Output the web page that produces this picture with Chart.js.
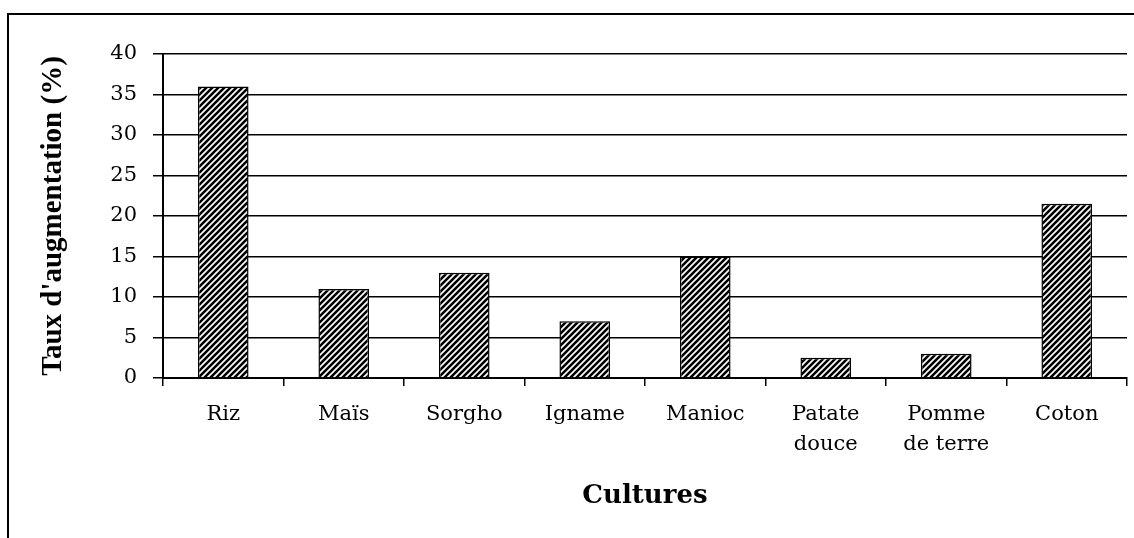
<!DOCTYPE html>
<html lang="fr">
<head>
    <meta charset="UTF-8">
    <title>Taux d'augmentation par culture</title>
    <script src="https://cdn.jsdelivr.net/npm/chart.js"></script>
    <style>
        body { margin: 0; background: #fff; overflow: hidden; }
        #wrap { position: relative; width: 1134px; height: 538px; }
        #frame {
            position: absolute; left: 7px; top: 13px;
            width: 1200px; height: 600px;
            border: 2px solid #000; pointer-events: none;
        }
    </style>
</head>
<body>
    <div id="wrap">
        <canvas id="cropChart" width="1134" height="538"></canvas>
        <div id="frame"></div>
    </div>
    <script>
        // values
        const cultures = ['Riz', 'Maïs', 'Sorgho', 'Igname', 'Manioc', ['Patate', 'douce'], ['Pomme', 'de terre'], 'Coton'];
        const tauxAugmentation = [36, 11, 13, 7, 15, 2.5, 3, 21.5];
        const yMin = 0;
        const yMax = 40;
        const yStep = 5;

        // diagonal hatch fill like the original bars
        function makeHatch() {
            const tile = document.createElement('canvas');
            tile.width = 6;
            tile.height = 6;
            const g = tile.getContext('2d');
            g.fillStyle = '#fff';
            g.fillRect(0, 0, 6, 6);
            g.strokeStyle = '#000';
            g.lineWidth = 2.6;
            g.beginPath();
            g.moveTo(-1, 7); g.lineTo(7, -1);
            g.moveTo(-1, 1); g.lineTo(1, -1);
            g.moveTo(5, 7); g.lineTo(7, 5);
            g.stroke();
            return document.createElement('canvas').getContext('2d').createPattern(tile, 'repeat');
        }

        const ctx = document.getElementById('cropChart').getContext('2d');
        new Chart(ctx, {
            type: 'bar',
            data: {
                labels: cultures,
                datasets: [{
                    data: tauxAugmentation,
                    backgroundColor: makeHatch(),
                    borderColor: '#000',
                    borderWidth: 1.5,
                    barPercentage: 0.42,
                    categoryPercentage: 1
                }]
            },
            options: {
                responsive: false,
                animation: false,
                devicePixelRatio: 1,
                layout: { padding: { left: 22, top: 54, right: 7, bottom: 0 } },
                plugins: {
                    legend: { display: false },
                    tooltip: { enabled: false }
                },
                scales: {
                    x: {
                        offset: true,
                        afterFit: (scale) => { scale.height = 160; },
                        grid: {
                            offset: true,
                            drawOnChartArea: false,
                            drawTicks: true,
                            tickLength: 8,
                            color: '#000',
                            lineWidth: 1.5
                        },
                        border: { color: '#000', width: 2 },
                        ticks: {
                            color: '#000',
                            padding: 13,
                            maxRotation: 0,
                            autoSkip: false,
                            font: { family: 'DejaVu Serif', size: 21, lineHeight: 1.45 }
                        },
                        title: {
                            display: true,
                            text: 'Cultures',
                            color: '#000',
                            padding: { top: 0, bottom: 26 },
                            font: { family: 'DejaVu Serif', size: 26, weight: 'bold' }
                        }
                    },
                    y: {
                        min: yMin,
                        max: yMax,
                        afterFit: (scale) => { scale.width = 141; },
                        grid: {
                            color: '#000',
                            lineWidth: 1.5,
                            tickLength: 10
                        },
                        border: { color: '#000', width: 2 },
                        ticks: {
                            stepSize: yStep,
                            color: '#000',
                            padding: 16,
                            font: { family: 'DejaVu Serif', size: 21 }
                        },
                        title: {
                            display: true,
                            text: "Taux d'augmentation (%)",
                            color: '#000',
                            padding: { top: 14, bottom: 0 },
                            font: { family: 'Liberation Serif', size: 29, weight: 'bold' }
                        }
                    }
                }
            }
        });
    </script>
</body>
</html>
